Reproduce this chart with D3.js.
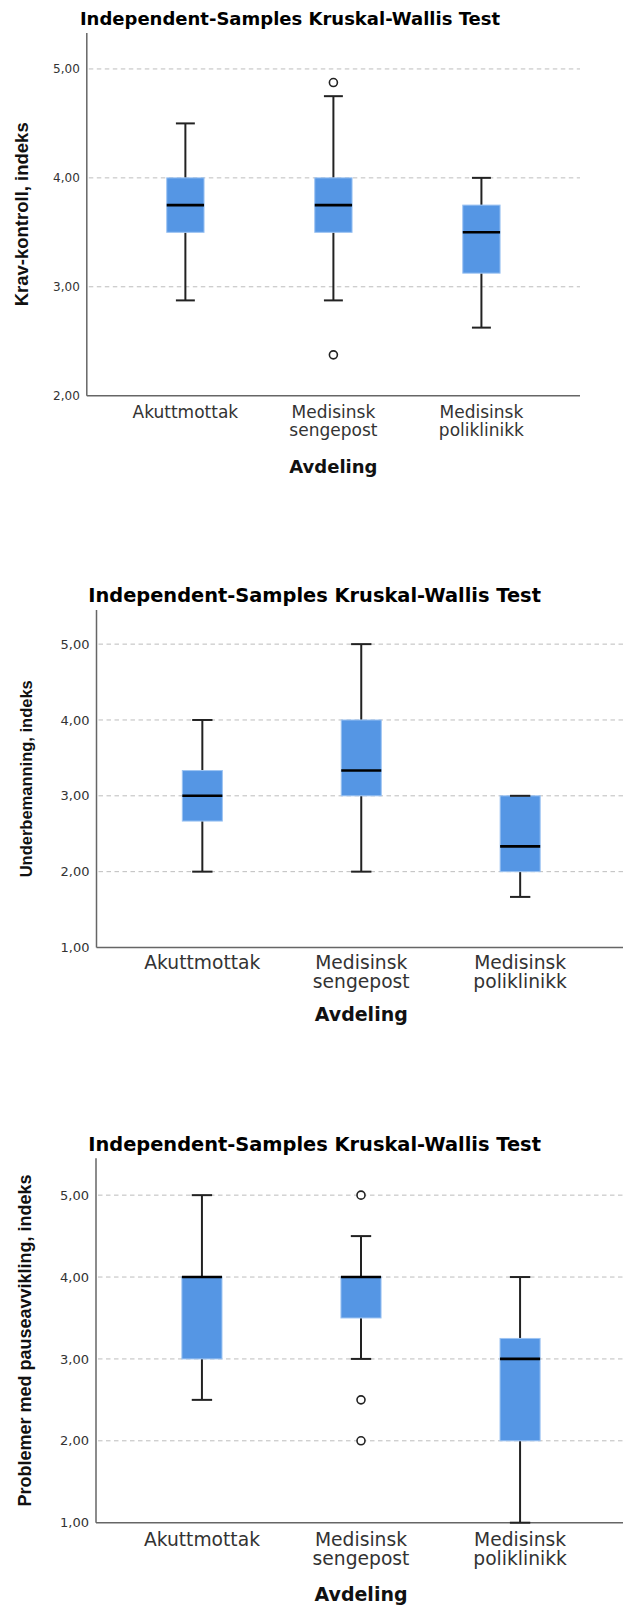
<!DOCTYPE html>
<html>
<head>
<meta charset="utf-8">
<script src="https://cdn.jsdelivr.net/npm/d3@7"></script>
<style>
  html, body { margin: 0; padding: 0; background: #fff; }
  svg { display: block; }
</style>
</head>
<body>
<svg id="chart" width="623" height="1606"></svg>
<script>
// ---------------- DATA ----------------
const categories = ["Akuttmottak", "Medisinsk sengepost", "Medisinsk poliklinikk"];
const titleText = "Independent-Samples Kruskal-Wallis Test";
const xTitle = "Avdeling";

// Panel 1: Krav-kontroll, indeks
const kravTicks = [2, 3, 4, 5];
const kravLow = [2.875, 2.875, 2.625];
const kravQ1 = [3.5, 3.5, 3.125];
const kravMedian = [3.75, 3.75, 3.5];
const kravQ3 = [4.0, 4.0, 3.75];
const kravHigh = [4.5, 4.75, 4.0];
const kravOutliers = [[], [4.875, 2.375], []];

// Panel 2: Underbemanning, indeks
const underTicks = [1, 2, 3, 4, 5];
const underLow = [2.0, 2.0, 1.667];
const underQ1 = [2.667, 3.0, 2.0];
const underMedian = [3.0, 3.333, 2.333];
const underQ3 = [3.333, 4.0, 3.0];
const underHigh = [4.0, 5.0, 3.0];
const underOutliers = [[], [], []];

// Panel 3: Problemer med pauseavvikling, indeks
const pauseTicks = [1, 2, 3, 4, 5];
const pauseLow = [2.5, 3.0, 1.0];
const pauseQ1 = [3.0, 3.5, 2.0];
const pauseMedian = [4.0, 4.0, 3.0];
const pauseQ3 = [4.0, 4.0, 3.25];
const pauseHigh = [5.0, 4.5, 4.0];
const pauseOutliers = [[], [5.0, 2.5, 2.0], []];

// ---------------- LAYOUT ----------------
const panels = [
  { yLabel: "Krav-kontroll, indeks", ticks: kravTicks, domain: [2, 5.33],
    low: kravLow, q1: kravQ1, med: kravMedian, q3: kravQ3, high: kravHigh, out: kravOutliers,
    left: 86.8, right: 580, top: 33, bottom: 395.7,
    titleX: 290, titleY: 25, titleSize: 18,
    yLabX: 28, yLabSize: 18.5,
    tickSize: 12, catSize: 17, catLine: 17.5, catOff: 22.6,
    xTitleY: 473, xTitleSize: 18 },
  { yLabel: "Underbemanning, indeks", ticks: underTicks, domain: [1, 5.45],
    low: underLow, q1: underQ1, med: underMedian, q3: underQ3, high: underHigh, out: underOutliers,
    left: 96.5, right: 626, top: 610, bottom: 947.5,
    titleX: 314.6, titleY: 602.3, titleSize: 19.4,
    yLabX: 32, yLabSize: 16.5,
    tickSize: 13, catSize: 18.7, catLine: 18.5, catOff: 21.8,
    xTitleY: 1021, xTitleSize: 19 },
  { yLabel: "Problemer med pauseavvikling, indeks", ticks: pauseTicks, domain: [1, 5.45],
    low: pauseLow, q1: pauseQ1, med: pauseMedian, q3: pauseQ3, high: pauseHigh, out: pauseOutliers,
    left: 96, right: 626, top: 1158.3, bottom: 1522.7,
    titleX: 314.6, titleY: 1150.7, titleSize: 19.4,
    yLabX: 31, yLabSize: 18,
    tickSize: 13, catSize: 18.7, catLine: 18.5, catOff: 23.3,
    xTitleY: 1601, xTitleSize: 19 }
];

const svg = d3.select("#chart");
svg.append("rect").attr("width", 623).attr("height", 1606).attr("fill", "#fff");

const locale = d3.formatLocale({ decimal: ",", thousands: ".", grouping: [3], currency: ["", ""] });
const fmt = locale.format(".2f");

panels.forEach(p => {
  const g = svg.append("g");
  const x = d3.scalePoint().domain(categories).range([p.left, p.right]).padding(0.666);
  const y = d3.scaleLinear().domain(p.domain).range([p.bottom, p.top]);
  const step = x.step();
  const boxW = step * 0.252;
  const capW = step * 0.128;

  // title
  g.append("text")
    .attr("x", p.titleX).attr("y", p.titleY)
    .attr("text-anchor", "middle")
    .attr("font-family", "DejaVu Sans, sans-serif")
    .attr("font-weight", "bold")
    .attr("font-size", p.titleSize)
    .attr("fill", "#000")
    .text(titleText);

  // gridlines
  g.append("g").selectAll("line")
    .data(p.ticks.filter(t => t !== p.domain[0]))
    .join("line")
    .attr("x1", p.left + 2).attr("x2", p.right)
    .attr("y1", d => y(d)).attr("y2", d => y(d))
    .attr("stroke", "#bdbdbd").attr("stroke-width", 1)
    .attr("stroke-dasharray", "4.5,3.5");

  // y axis (D3 axis, no tick marks)
  const yAxis = d3.axisLeft(y).tickValues(p.ticks).tickFormat(fmt).tickSize(0).tickPadding(7);
  const ya = g.append("g").attr("transform", `translate(${p.left},0)`).call(yAxis);
  ya.select(".domain").remove();
  ya.selectAll("text")
    .attr("font-family", "DejaVu Sans, sans-serif")
    .attr("font-size", p.tickSize)
    .attr("fill", "#333");

  // axis lines
  g.append("line")
    .attr("x1", p.left).attr("x2", p.left)
    .attr("y1", p.top).attr("y2", p.bottom)
    .attr("stroke", "#666").attr("stroke-width", 1.5);
  g.append("line")
    .attr("x1", p.left).attr("x2", p.right)
    .attr("y1", p.bottom).attr("y2", p.bottom)
    .attr("stroke", "#666").attr("stroke-width", 1.5);

  // x category labels
  const xa = g.append("g");
  categories.forEach(c => {
    const lines = c.split(" ");
    const t = xa.append("text")
      .attr("x", x(c)).attr("y", p.bottom + p.catOff)
      .attr("text-anchor", "middle")
      .attr("font-family", "DejaVu Sans, sans-serif")
      .attr("font-size", p.catSize)
      .attr("fill", "#333");
    lines.forEach((ln, i) => {
      t.append("tspan").attr("x", x(c)).attr("dy", i === 0 ? 0 : p.catLine).text(ln);
    });
  });

  // x title
  g.append("text")
    .attr("x", (p.left + p.right) / 2).attr("y", p.xTitleY)
    .attr("text-anchor", "middle")
    .attr("font-family", "DejaVu Sans, sans-serif")
    .attr("font-weight", "bold")
    .attr("font-size", p.xTitleSize)
    .attr("fill", "#111")
    .text(xTitle);

  // y title
  g.append("text")
    .attr("transform", `translate(${p.yLabX},${(p.top + p.bottom) / 2}) rotate(-90)`)
    .attr("text-anchor", "middle")
    .attr("font-family", "Liberation Sans, Arial, sans-serif")
    .attr("font-weight", "bold")
    .attr("font-size", p.yLabSize)
    .attr("fill", "#111")
    .text(p.yLabel);

  // boxes
  const data = categories.map((c, i) => ({
    c, low: p.low[i], q1: p.q1[i], med: p.med[i], q3: p.q3[i], high: p.high[i], out: p.out[i]
  }));
  const bx = g.append("g").selectAll("g").data(data).join("g");

  // whiskers
  bx.append("line")
    .attr("x1", d => x(d.c)).attr("x2", d => x(d.c))
    .attr("y1", d => y(d.high)).attr("y2", d => y(d.q3))
    .attr("stroke", "#222").attr("stroke-width", 2);
  bx.append("line")
    .attr("x1", d => x(d.c)).attr("x2", d => x(d.c))
    .attr("y1", d => y(d.q1)).attr("y2", d => y(d.low))
    .attr("stroke", "#222").attr("stroke-width", 2);

  // box
  bx.append("rect")
    .attr("x", d => x(d.c) - boxW / 2)
    .attr("width", boxW)
    .attr("y", d => y(d.q3))
    .attr("height", d => y(d.q1) - y(d.q3))
    .attr("fill", "#5596e4")
    .attr("stroke", "#9cc3f2").attr("stroke-width", 1);

  // caps
  bx.append("line")
    .attr("x1", d => x(d.c) - capW / 2).attr("x2", d => x(d.c) + capW / 2)
    .attr("y1", d => y(d.high)).attr("y2", d => y(d.high))
    .attr("stroke", "#222").attr("stroke-width", 2);
  bx.append("line")
    .attr("x1", d => x(d.c) - capW / 2).attr("x2", d => x(d.c) + capW / 2)
    .attr("y1", d => y(d.low)).attr("y2", d => y(d.low))
    .attr("stroke", "#222").attr("stroke-width", 2);

  // median
  bx.append("line")
    .attr("x1", d => x(d.c) - boxW / 2).attr("x2", d => x(d.c) + boxW / 2)
    .attr("y1", d => y(d.med)).attr("y2", d => y(d.med))
    .attr("stroke", "#000").attr("stroke-width", 2.6);

  // outliers
  bx.each(function (d) {
    d3.select(this).selectAll("circle").data(d.out).join("circle")
      .attr("cx", x(d.c)).attr("cy", v => y(v))
      .attr("r", 4)
      .attr("fill", "#fff")
      .attr("stroke", "#222").attr("stroke-width", 1.6);
  });
});
</script>
</body>
</html>
